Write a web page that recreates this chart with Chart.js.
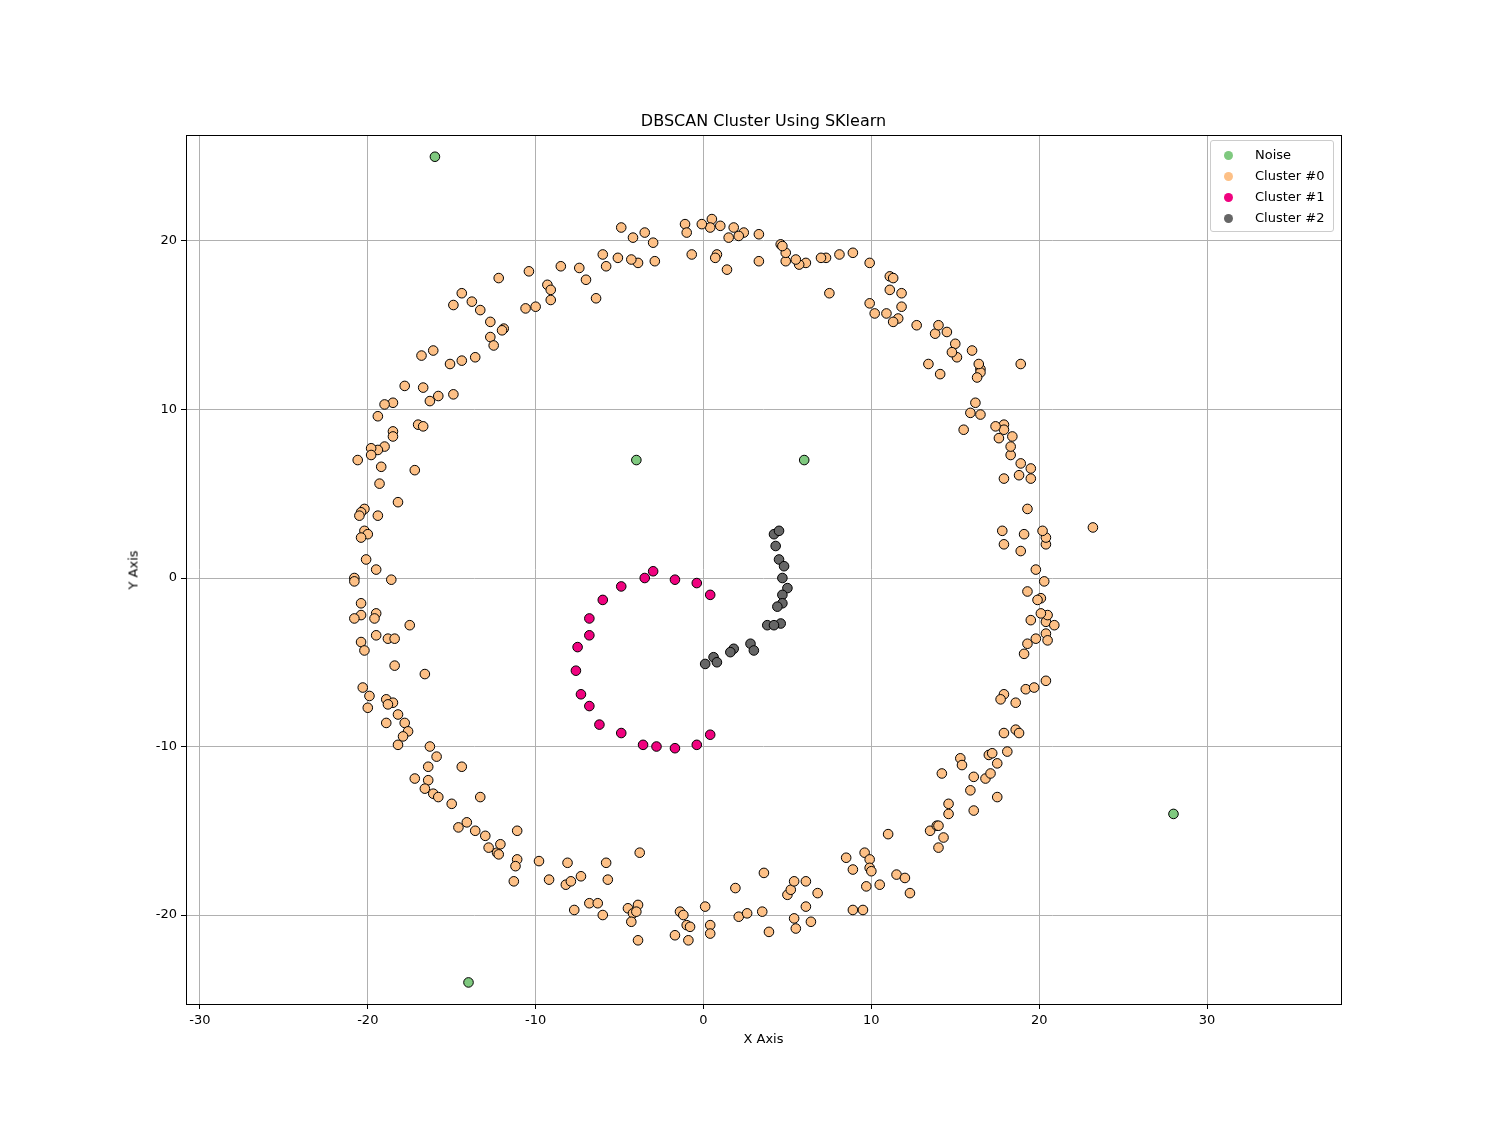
<!DOCTYPE html>
<html>
<head>
<meta charset="utf-8">
<script src="https://cdn.jsdelivr.net/npm/chart.js@4"></script>
<style>
  body { margin: 0; background: #fff; font-family: "DejaVu Sans", sans-serif; }
  #wrap { position: relative; width: 1490px; height: 1128px; }
  .lbl { position: absolute; font-size: 13px; color: #000; white-space: nowrap; }
  #title { left: 0; width: 1527px; top: 111px; text-align: center; font-size: 16px; }
  #xt { left: 0; width: 1527px; top: 1031px; text-align: center; }
  #yt { left: 133px; top: 570px; transform: translate(-50%, -50%) rotate(-90deg); }
  #legend { position: absolute; left: 1210px; top: 140px; width: 122px; border: 1px solid #ccc;
            border-radius: 3px; background: rgba(255,255,255,0.8); padding: 3px 0; font-size: 13px; }
  #legend div { height: 21px; line-height: 21px; padding-left: 13px; }
  #legend span { display: inline-block; width: 9px; height: 9px; border-radius: 50%; margin-right: 22px; vertical-align: -1px; }
</style>
</head>
<body>
<div id="wrap">
  <canvas id="chart" width="1490" height="1128"></canvas>
  <div id="title" class="lbl">DBSCAN Cluster Using SKlearn</div>
  <div id="xt" class="lbl">X Axis</div>
  <div id="yt" class="lbl">Y Axis</div>
  <div id="legend"></div>
</div>
<script>
// Series names and colours
const arrLabels = ['Noise', 'Cluster #0', 'Cluster #1', 'Cluster #2'];
const arrColors = ['#7fc97f', '#fdc086', '#f0027f', '#666666'];

// Tick values
const arrXTicks = [-30, -20, -10, 0, 10, 20, 30];
const arrYTicks = [-20, -10, 0, 10, 20];

// Points as [x, y]
const arrNoise = [[-16, 25], [-4, 7], [6, 7], [28, -14], [-14, -24]];

const arrCluster1 = [
    [-3, 0.4], [-3.5, 0], [-1.7, -0.1], [-0.4, -0.3], [0.4, -1], [-4.9, -0.5], [-6, -1.3], [-6.8, -2.4],
    [-6.8, -3.4], [-7.5, -4.1], [-7.6, -5.5], [-7.3, -6.9], [-6.8, -7.6], [-6.2, -8.7], [-4.9, -9.2],
    [-3.6, -9.9], [-2.8, -10], [-1.7, -10.1], [-0.4, -9.9], [0.4, -9.3]
];

const arrCluster2 = [
    [4.2, 2.6], [4.5, 2.8], [4.3, 1.9], [4.5, 1.1], [4.8, 0.7], [4.7, 0], [5, -0.6], [4.7, -1],
    [4.7, -1.5], [4.4, -1.7], [4.6, -2.7], [3.8, -2.8], [4.2, -2.8], [2.8, -3.9], [3, -4.3], [1.8, -4.2],
    [1.6, -4.4], [0.6, -4.7], [0.8, -5], [0.1, -5.1]
];

const arrCluster0 = [
    [-4.9, 20.8], [-4.2, 20.2], [-3.5, 20.5], [-3.0, 19.9], [-2.9, 18.8], [-3.9, 18.7], [-4.3, 18.9], [-5.1, 19.0],
    [-6.0, 19.2], [-5.8, 18.5], [-6.4, 16.6], [-7.0, 17.7], [-7.4, 18.4], [-8.5, 18.5], [-9.3, 17.4], [-9.1, 17.1],
    [-9.1, 16.5], [-10.4, 18.2], [-10.0, 16.1], [-10.6, 16.0], [-12.2, 17.8], [-11.9, 14.8], [-12.0, 14.7], [-12.7, 15.2],
    [-12.7, 14.3], [-12.5, 13.8], [-13.3, 15.9], [-13.8, 16.4], [-14.4, 16.9], [-14.9, 16.2], [-13.6, 13.1], [-14.4, 12.9],
    [-15.1, 12.7], [-16.1, 13.5], [-16.8, 13.2], [-14.9, 10.9], [-15.8, 10.8], [-16.3, 10.5], [-16.7, 11.3], [-17.8, 11.4],
    [-18.5, 10.4], [-19.0, 10.3], [-19.4, 9.6], [-17.0, 9.1], [-16.7, 9.0], [-18.5, 8.7], [-18.5, 8.4], [-19.0, 7.8],
    [-19.4, 7.6], [-19.8, 7.7], [-19.8, 7.3], [-20.6, 7.0], [-19.2, 6.6], [-17.2, 6.4], [-19.3, 5.6], [-18.2, 4.5],
    [-20.2, 4.1], [-20.4, 3.9], [-20.5, 3.7], [-19.4, 3.7], [-20.2, 2.8], [-20.0, 2.6], [-20.4, 2.4], [-20.1, 1.1],
    [-19.5, 0.5], [-20.8, 0], [-20.8, -0.2], [-18.6, -0.1], [-20.4, -1.5], [-20.4, -2.2], [-20.8, -2.4], [-19.5, -2.1],
    [-19.6, -2.4], [-19.5, -3.4], [-18.8, -3.6], [-18.4, -3.6], [-17.5, -2.8], [-20.4, -3.8], [-20.2, -4.3], [-18.4, -5.2],
    [-16.6, -5.7], [-20.3, -6.5], [-19.9, -7.0], [-18.9, -7.2], [-18.5, -7.4], [-18.8, -7.5], [-20.0, -7.7], [-18.2, -8.1],
    [-17.8, -8.6], [-18.9, -8.6], [-17.6, -9.1], [-17.9, -9.4], [-18.2, -9.9], [-16.3, -10.0], [-15.9, -10.6], [-14.4, -11.2],
    [-16.4, -11.2], [-17.2, -11.9], [-16.4, -12.0], [-16.6, -12.5], [-16.1, -12.8], [-15.8, -13.0], [-15.0, -13.4], [-13.3, -13.0],
    [-14.1, -14.5], [-14.6, -14.8], [-13.6, -15.0], [-13.0, -15.3], [-12.8, -16.0], [-12.3, -16.3], [-12.1, -15.8], [-12.2, -16.4],
    [-11.3, -18.0], [-11.1, -15.0], [-11.1, -16.7], [-11.2, -17.1], [-9.8, -16.8], [-9.2, -17.9], [-8.1, -16.9], [-5.8, -16.9],
    [-3.8, -16.3], [-8.2, -18.2], [-7.9, -18.0], [-7.3, -17.7], [-5.7, -17.9], [-7.7, -19.7], [-6.8, -19.3], [-6.3, -19.3],
    [-6.0, -20.0], [-4.5, -19.6], [-4.2, -19.9], [-3.9, -19.4], [-4.0, -19.8], [-4.3, -20.4], [-3.9, -21.5], [-1.4, -19.8],
    [-1.2, -20.0], [-1.0, -20.6], [-0.8, -20.7], [-1.7, -21.2], [-0.9, -21.5], [0.1, -19.5], [0.4, -20.6], [0.4, -21.1],
    [1.9, -18.4], [2.1, -20.1], [2.6, -19.9], [3.5, -19.8], [3.6, -17.5], [3.9, -21.0], [5.0, -18.8], [5.2, -18.5],
    [5.4, -18.0], [6.1, -18.0], [6.8, -18.7], [6.1, -19.5], [5.4, -20.2], [5.5, -20.8], [6.4, -20.4], [8.5, -16.6],
    [8.9, -17.3], [9.6, -16.3], [9.9, -16.7], [9.9, -17.2], [10.0, -17.4], [9.7, -18.3], [8.9, -19.7], [9.5, -19.7],
    [10.5, -18.2], [11.0, -15.2], [11.5, -17.6], [12.0, -17.8], [12.3, -18.7], [13.5, -15.0], [13.9, -14.7], [14.0, -14.7],
    [14.0, -16.0], [14.3, -15.4], [14.6, -14.0], [14.6, -13.4], [14.2, -11.6], [15.3, -10.7], [15.4, -11.1], [16.1, -11.8],
    [15.9, -12.6], [16.1, -13.8], [16.8, -11.9], [17.1, -11.6], [17.0, -10.5], [17.2, -10.4], [17.5, -11.0], [17.5, -13.0],
    [18.1, -10.3], [17.9, -9.2], [18.6, -9.0], [18.8, -9.2], [18.6, -7.4], [17.9, -6.9], [17.7, -7.2], [19.2, -6.6],
    [19.7, -6.5], [20.4, -6.1], [19.1, -4.5], [19.3, -3.9], [19.8, -3.6], [20.4, -3.3], [20.5, -3.7], [19.5, -2.5],
    [20.4, -2.6], [20.5, -2.2], [20.9, -2.8], [20.1, -2.1], [20.1, -1.2], [19.9, -1.3], [19.3, -0.8], [20.3, -0.2],
    [19.8, 0.5], [18.9, 1.6], [20.4, 2.0], [20.4, 2.4], [20.2, 2.8], [19.1, 2.6], [17.9, 2.0], [17.8, 2.8],
    [19.3, 4.1], [23.2, 3.0], [17.9, 5.9], [18.8, 6.1], [19.5, 5.9], [19.5, 6.5], [18.9, 6.8], [18.3, 7.3],
    [18.3, 7.8], [18.4, 8.4], [17.9, 9.1], [17.9, 8.8], [17.4, 9.0], [17.6, 8.3], [15.5, 8.8], [15.9, 9.8],
    [16.5, 9.7], [16.2, 10.4], [18.9, 12.7], [16.5, 12.4], [16.5, 12.2], [16.3, 11.9], [16.4, 12.7], [16.0, 13.5],
    [15.0, 13.9], [15.1, 13.1], [14.8, 13.4], [14.1, 12.1], [13.4, 12.7], [13.8, 14.5], [14.0, 15.0], [14.5, 14.6],
    [12.7, 15.0], [11.6, 15.4], [10.9, 15.7], [11.3, 15.2], [10.2, 15.7], [9.9, 16.3], [11.8, 16.1], [11.8, 16.9],
    [11.1, 17.1], [11.1, 17.9], [11.3, 17.8], [9.9, 18.7], [8.9, 19.3], [8.1, 19.2], [7.5, 16.9], [7.3, 19.0],
    [7.0, 19.0], [6.1, 18.7], [5.7, 18.6], [5.5, 18.9], [4.9, 18.8], [4.9, 19.3], [4.6, 19.8], [4.7, 19.7],
    [3.3, 18.8], [3.3, 20.4], [2.4, 20.5], [2.1, 20.3], [1.8, 20.8], [1.5, 20.2], [1.4, 18.3], [1.0, 20.9],
    [0.5, 21.3], [0.4, 20.8], [-0.1, 21.0], [0.8, 19.2], [0.7, 19.0], [-0.7, 19.2], [-1.1, 21.0], [-1.0, 20.5]
];

const arrSeries = [arrNoise, arrCluster0, arrCluster1, arrCluster2];

// Legend in the top-right corner of the plot
document.getElementById('legend').innerHTML = arrLabels
    .map((s, i) => `<div><span style="background:${arrColors[i]}"></span>${s}</div>`).join('');

/** Draws the full box around the plot area */
const framePlugin = {
    id: 'frame',
    afterDraw(chart) {
        const { ctx, chartArea: a } = chart;
        ctx.save();
        ctx.strokeStyle = '#000';
        ctx.lineWidth = 1;
        ctx.strokeRect(a.left + 0.5, a.top + 0.5, a.right - a.left, a.bottom - a.top);
        ctx.restore();
    }
};

const tickFont = { family: 'DejaVu Sans', size: 13 };

new Chart(document.getElementById('chart'), {
    type: 'scatter',
    data: {
        datasets: arrSeries.map((pts, i) => ({
            label: arrLabels[i],
            data: pts.map(p => ({ x: p[0], y: p[1] })),
            backgroundColor: arrColors[i],
            borderColor: '#000',
            borderWidth: 1,
            pointRadius: 4.8,
            pointHoverRadius: 4.8
        }))
    },
    plugins: [framePlugin],
    options: {
        responsive: false,
        animation: false,
        layout: { padding: { top: 135, right: 149, left: 0, bottom: 0 } },
        plugins: { legend: { display: false }, tooltip: { enabled: false } },
        scales: {
            x: {
                type: 'linear', min: -30.83, max: 37.98,
                afterBuildTicks: s => { s.ticks = arrXTicks.map(v => ({ value: v })); },
                afterFit: s => { s.height = 124; },
                ticks: { color: '#000', font: tickFont, padding: 4 },
                grid: { color: '#b0b0b0', tickColor: '#000', tickLength: 5 },
                border: { display: false }
            },
            y: {
                type: 'linear', min: -25.28, max: 26.29,
                afterBuildTicks: s => { s.ticks = arrYTicks.map(v => ({ value: v })); },
                afterFit: s => { s.width = 186; },
                ticks: { color: '#000', font: tickFont, padding: 4 },
                grid: { color: '#b0b0b0', tickColor: '#000', tickLength: 5 },
                border: { display: false }
            }
        }
    }
});
</script>
</body>
</html>
